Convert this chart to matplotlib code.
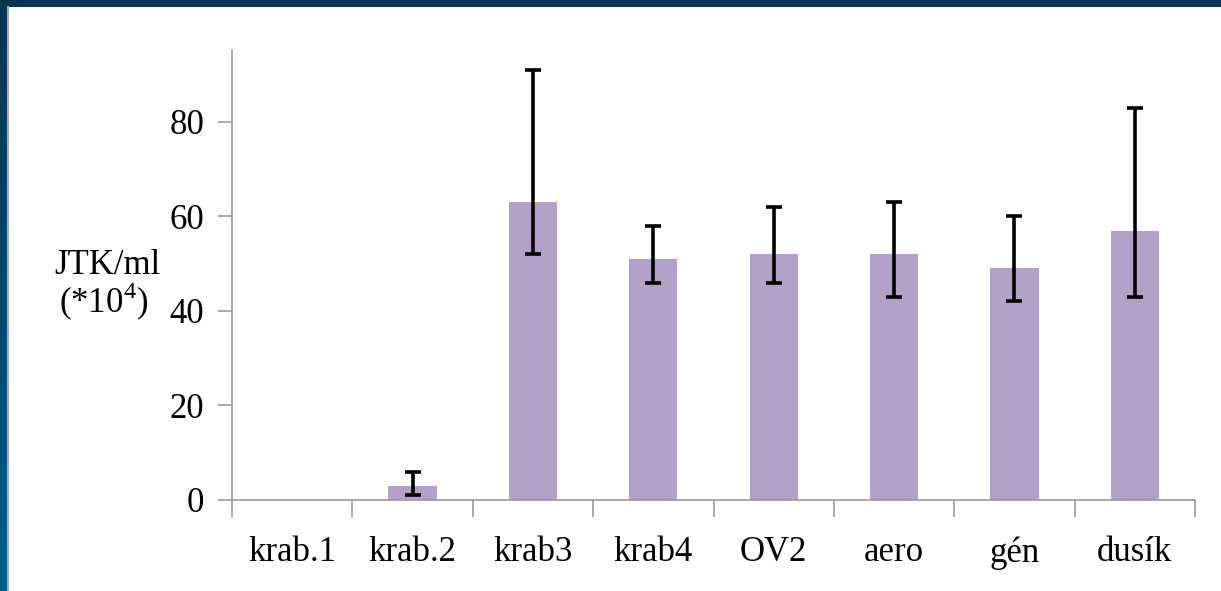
import matplotlib.pyplot as plt
import matplotlib.colors as mcolors
import numpy as np

categories = ['krab.1', 'krab.2', 'krab3', 'krab4', 'OV2', 'aero', 'gén', 'dusík']
values = [0, 3, 63, 51, 52, 52, 49, 57]
err_low = [0, 1, 52, 46, 46, 43, 42, 43]
err_high = [0, 6, 91, 58, 62, 63, 60, 83]

plt.rcParams['font.family'] = ['Liberation Serif', 'DejaVu Serif']
plt.rcParams['mathtext.fontset'] = 'custom'
plt.rcParams['mathtext.rm'] = 'Liberation Serif'

fig = plt.figure(figsize=(12.21, 5.91), dpi=100)

# slide frame: dark band on top, gradient strip on the left
top = fig.add_axes([0, 1 - 7 / 591, 1, 7 / 591])
top.axis('off')
top.add_patch(plt.Rectangle((0, 0), 1, 1, color='#023552', transform=top.transAxes))
left = fig.add_axes([0, 0, 7 / 1221, 1])
cmap = mcolors.LinearSegmentedColormap.from_list('edge', ['#023552', '#005c8d'])
left.imshow(np.linspace(0, 1, 100).reshape(-1, 1), aspect='auto', cmap=cmap)
left.axis('off')
fig.add_artist(plt.Line2D([8 / 1221, 8 / 1221], [0, 1 - 7 / 591], color='#aaaaaa', lw=1.5))

ax = fig.add_axes([232 / 1221, 1 - 500 / 591, (1195 - 232) / 1221, 450 / 591])
x = np.arange(len(categories))
vals = np.array(values)
yerr = [vals - np.array(err_low), np.array(err_high) - vals]
ax.bar(x, vals, width=0.4, color='#b3a2c7')
ax.errorbar(x[1:], vals[1:], yerr=[yerr[0][1:], yerr[1][1:]], fmt='none',
            ecolor='black', elinewidth=2.6, capsize=6, capthick=2.6)

ax.set_xlim(-0.5, 7.5)
ax.set_ylim(0, 95.2)
ax.set_yticks([0, 20, 40, 60, 80])
ax.set_xticks(np.arange(-0.5, 8, 1))
ax.set_xticklabels([])
ax.set_xticks(x, minor=True)
ax.set_xticklabels(categories, minor=True)
ax.tick_params(axis='x', which='major', length=12, width=1.2, color='#999999')
ax.tick_params(axis='x', which='minor', length=0, pad=26, labelsize=25)
ax.tick_params(axis='y', length=10, width=1.2, color='#999999', pad=10, labelsize=25)
for s in ['top', 'right']:
    ax.spines[s].set_visible(False)
for s in ['left', 'bottom']:
    ax.spines[s].set_color('#999999')
    ax.spines[s].set_linewidth(1.2)

fig.text(107 / 1221, 1 - 265 / 591, 'JTK/ml', ha='center', va='center', fontsize=25)
fig.text(104 / 1221, 1 - 302 / 591, '(*10$^{4}$)', ha='center', va='center', fontsize=25)

fig.savefig('out.png', dpi=100)
